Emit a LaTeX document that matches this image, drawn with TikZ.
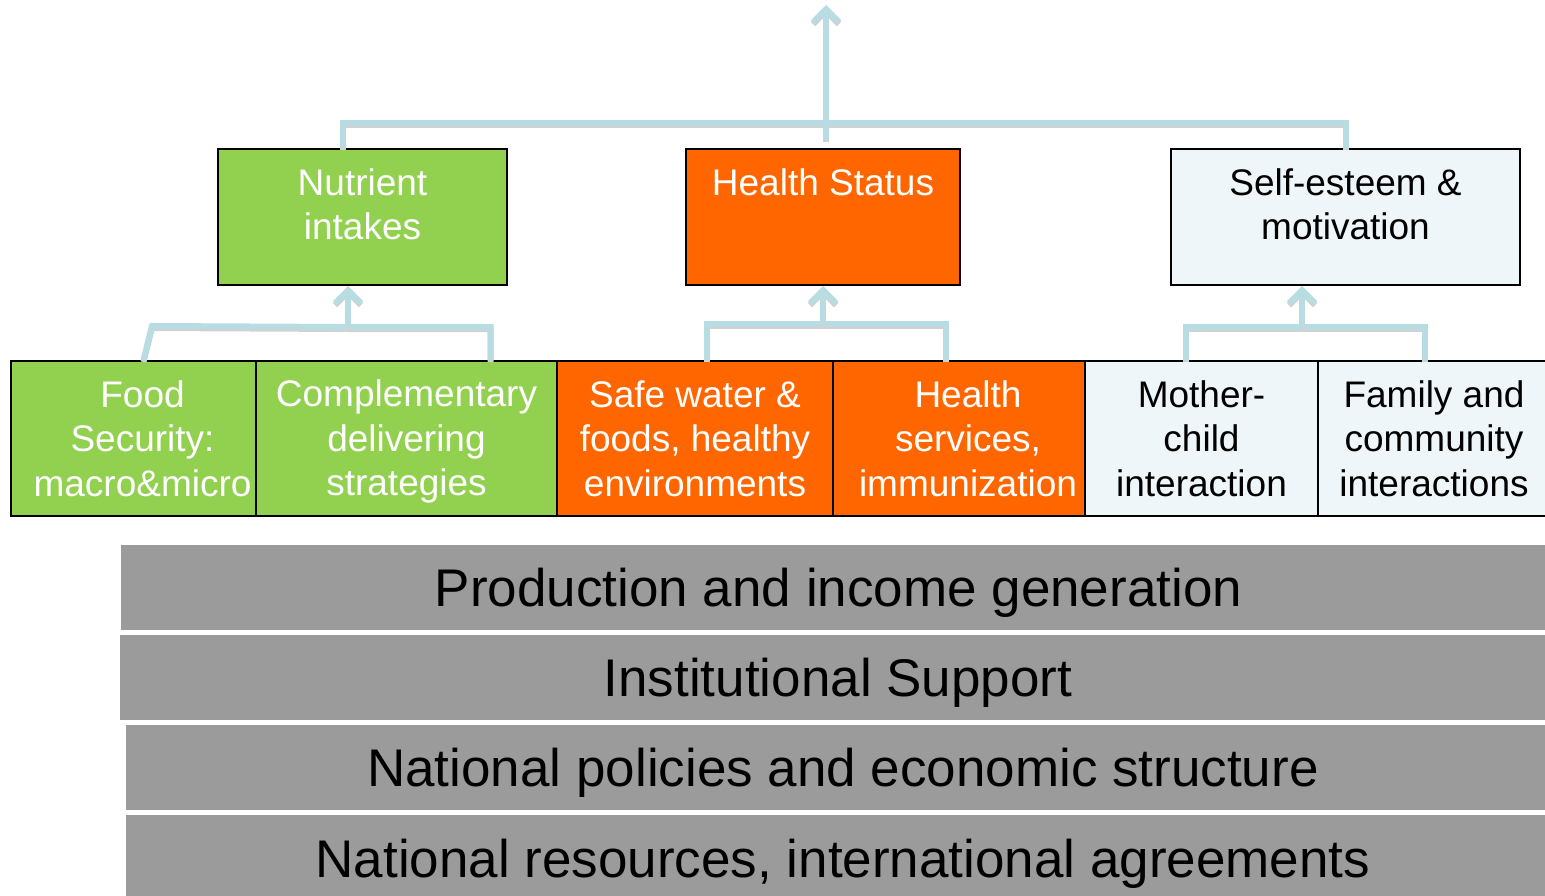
\documentclass[tikz,border=0pt]{standalone}
\usepackage{fontspec}
\setmainfont{Liberation Sans}
\usetikzlibrary{positioning,arrows.meta}

\definecolor{leafgreen}{HTML}{92D050}
\definecolor{hotorange}{HTML}{FF6600}
\definecolor{paleblue}{HTML}{EEF6F9}
\definecolor{bandgrey}{HTML}{9B9B9B}
\definecolor{linkblue}{HTML}{B7DDE3}

\tikzset{
    box/.style={draw=black, line width=2pt, minimum height=155pt, inner sep=0pt,
        align=center, font=\fontsize{37}{44.5}\selectfont},
    topbox/.style={box, minimum height=136pt},
    toptext/.style={inner sep=0pt, align=center, font=\fontsize{37}{44.5}\selectfont},
    band/.style={fill=bandgrey, minimum height=85pt, inner sep=0pt,
        text height=38pt, text depth=0pt, font=\fontsize{53}{60}\selectfont},
    link/.style={draw=linkblue, line width=6pt,
        preaction={draw=black!18, line width=6pt, transform canvas={yshift=-2pt}}},
    uplink/.style={link, -{Straight Barb[length=13pt,width=26pt]}},
}

\begin{document}
\begin{tikzpicture}[x=1pt,y=-1pt]
    \clip (0,0) rectangle (1545,896);

    % upper row
    \node[topbox, fill=leafgreen, minimum width=289pt] (nutrient) at (362.5,217) {};
    \node[topbox, fill=hotorange, minimum width=274pt] (health) at (823,217) {};
    \node[topbox, fill=paleblue, minimum width=349pt] (selfest) at (1345.5,217) {};

    \node[toptext, text=white, below=20pt of nutrient.north] (nutrienttext) {Nutrient\\intakes};
    \node[toptext, text=white, below=20pt of health.north] (healthtext) {Health Status};
    \node[toptext, below=20pt of selfest.north] (selftext) {Self-esteem \&\\motivation};

    % lower row
    \node[box, fill=leafgreen, minimum width=245pt] (food) at (133.5,438.5) {};
    \node[toptext, text=white] (foodtext) at ([xshift=9pt]food.center)
        {Food\\Security:\\macro\&micro};
    \node[box, fill=leafgreen, minimum width=301pt] (comp) at (406.5,438.5) {};
    \node[toptext, text=white] (comptext) at ([yshift=-3pt]comp.center)
        {Complementary\\delivering\\strategies};
    \node[box, fill=hotorange, text=white, minimum width=276pt] (safe) at (695,438.5)
        {Safe water \&\\foods, healthy\\environments};
    \node[box, fill=hotorange, minimum width=252pt] (hserv) at (959,438.5) {};
    \node[toptext, text=white] (hservtext) at ([xshift=9pt]hserv.center)
        {Health\\services,\\immunization};
    \node[box, fill=paleblue, minimum width=233pt] (mother) at (1201.5,438.5)
        {Mother-\\child\\interaction};
    \node[box, fill=paleblue, minimum width=232pt] (family) at (1434,438.5)
        {Family and\\community\\interactions};

    % grey bands
    \node[band, minimum width=1435pt] (prod) at (838.5,587.5) {Production and income generation};
    \node[band, minimum width=1436pt] (inst) at (838,677.5) {Institutional Support};
    \node[band, minimum width=1434pt] (policy) at (843,767.5) {National policies and economic structure};
    \node[band, minimum width=1434pt, minimum height=86pt] (resource) at (843,858)
        {National resources, international agreements};

    % top bracket
    \coordinate (hubtop) at (826,123);
    \coordinate (hubfoot) at (826,140);
    \coordinate (goal) at (826,5);
    \draw[link] ([xshift=-19.5pt]nutrient.north) |- (hubtop) -| (selfest.north);
    \draw[uplink] (hubfoot) -- (goal);

    % left bracket
    \coordinate (hubL) at (348,327);
    \draw[link] ([xshift=10pt]food.north) -- ([xshift=18.5pt,yshift=34pt]food.north)
        -- (hubL) -| ([xshift=84pt]comp.north);
    \draw[uplink] (hubL) -- (hubL |- nutrient.south);

    % middle bracket
    \coordinate (hubM) at (823,324);
    \draw[link] ([xshift=12pt]safe.north) |- (hubM) -| ([xshift=-13pt]hserv.north);
    \draw[uplink] (hubM) -- (health.south);

    % right bracket
    \coordinate (hubR) at (1302,327);
    \draw[link] ([xshift=-15.5pt]mother.north) |- (hubR) -| ([xshift=-9pt]family.north);
    \draw[uplink] (hubR) -- (hubR |- selfest.south);

\end{tikzpicture}
\end{document}
